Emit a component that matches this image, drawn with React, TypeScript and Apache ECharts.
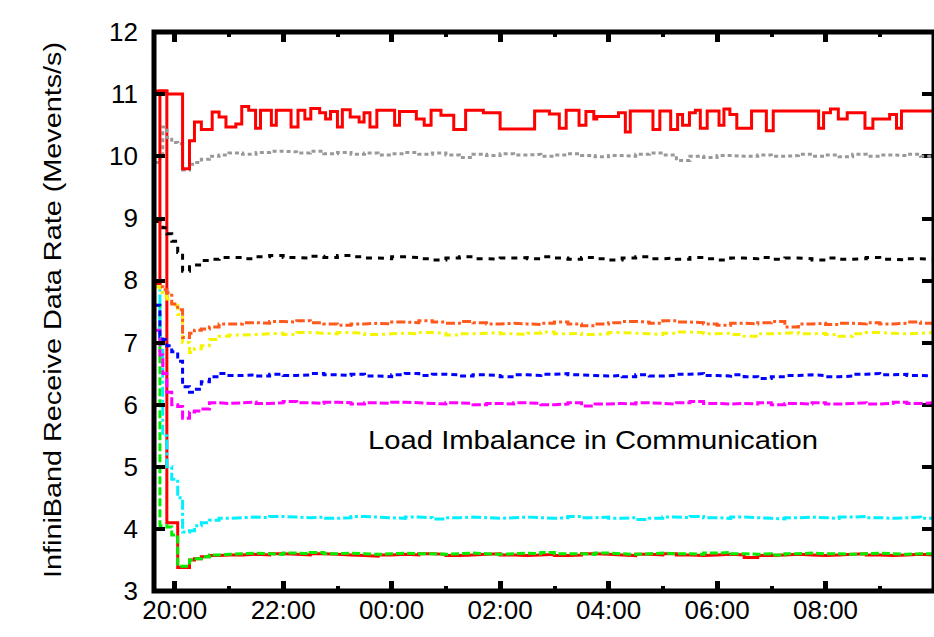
import React, { useEffect, useRef } from "react";
import * as echarts from "echarts";

// ---- time grid (hours; 24 = 00:00 next day) ----
const EARLY_TIMES = [19.636, 19.727, 19.78, 19.855, 19.945, 20.055, 20.145, 20.273, 20.364, 20.491, 20.64, 20.818];
const FLAT_TIMES = [
  21.0, 21.25, 21.5, 21.75, 22.0, 22.25, 22.5, 22.75, 23.0, 23.25,
  23.5, 23.75, 24.0, 24.25, 24.5, 24.75, 25.0, 25.25, 25.5, 25.75,
  26.0, 26.25, 26.5, 26.75, 27.0, 27.25, 27.5, 27.75, 28.0, 28.25,
  28.5, 28.75, 29.0, 29.25, 29.5, 29.75, 30.0, 30.25, 30.5, 30.75,
  31.0, 31.25, 31.5, 31.75, 32.0, 32.25, 32.5, 32.75, 33.0, 33.25,
  33.5, 33.75, 34.0,
];
const TIMES = [...EARLY_TIMES, ...FLAT_TIMES];

// ---- series values ----
const GRAY = [
  9.9, 10.0, 10.47, 10.3, 10.22, 10.2, 9.78, 9.87, 9.9, 9.95, 10.0, 10.02,
  10.05, 10.03, 10.06, 10.08, 10.07, 10.05, 10.08, 10.04, 10.06, 10.03,
  10.05, 10.02, 10.04, 10.06, 10.03, 10.05, 10.02, 9.98, 10.03, 10.01,
  10.04, 10.02, 10.03, 10.0, 10.02, 10.04, 10.01, 9.99, 10.01, 10.0,
  10.03, 10.05, 10.02, 9.93, 10.0, 9.98, 10.01, 10.0, 10.0, 10.02,
  10.0, 10.01, 10.03, 10.0, 10.02, 9.99, 10.03, 10.0, 10.02, 10.01,
  10.03, 10.0, 10.01,
];
const BLACK = [
  8.95, 8.9, 8.85, 8.75, 8.63, 8.45, 8.15, 8.22, 8.25, 8.32, 8.34, 8.37,
  8.37, 8.35, 8.38, 8.4, 8.37, 8.36, 8.39, 8.37, 8.4, 8.38,
  8.36, 8.35, 8.38, 8.37, 8.35, 8.33, 8.36, 8.38, 8.35, 8.34,
  8.36, 8.37, 8.35, 8.38, 8.36, 8.34, 8.37, 8.35, 8.33, 8.36,
  8.38, 8.35, 8.36, 8.34, 8.37, 8.35, 8.33, 8.36, 8.35, 8.37,
  8.34, 8.36, 8.35, 8.33, 8.36, 8.34, 8.35, 8.37, 8.34, 8.33,
  8.35, 8.34, 8.33,
];
const ORANGE = [
  8.0, 7.9, 7.85, 7.8, 7.62, 7.53, 7.08, 7.15, 7.2, 7.22, 7.25, 7.3,
  7.3, 7.32, 7.31, 7.34, 7.33, 7.35, 7.32, 7.3, 7.28, 7.3,
  7.31, 7.3, 7.33, 7.32, 7.35, 7.33, 7.31, 7.34, 7.32, 7.3,
  7.31, 7.3, 7.29, 7.31, 7.33, 7.3, 7.27, 7.3, 7.32, 7.34,
  7.33, 7.31, 7.35, 7.33, 7.32, 7.3, 7.28, 7.31, 7.3, 7.32,
  7.34, 7.25, 7.3, 7.31, 7.29, 7.31, 7.3, 7.32, 7.3, 7.31,
  7.33, 7.31, 7.3,
];
const YELLOW = [
  7.9, 7.8, 7.75, 7.7, 7.6, 7.45, 7.0, 6.84, 6.9, 6.95, 7.05, 7.1,
  7.12, 7.13, 7.14, 7.15, 7.13, 7.16, 7.15, 7.14, 7.16, 7.15,
  7.13, 7.14, 7.15, 7.14, 7.16, 7.15, 7.12, 7.14, 7.15, 7.16,
  7.14, 7.13, 7.15, 7.17, 7.14, 7.15, 7.13, 7.14, 7.16, 7.15,
  7.14, 7.13, 7.15, 7.17, 7.16, 7.14, 7.15, 7.13, 7.1, 7.14,
  7.15, 7.16, 7.14, 7.15, 7.13, 7.1, 7.14, 7.16, 7.15, 7.14,
  7.15, 7.16, 7.15,
];
const BLUE = [
  7.6, 7.1, 7.05, 6.95, 6.85, 6.7, 6.29, 6.2, 6.25, 6.37, 6.45, 6.5,
  6.47, 6.48, 6.46, 6.49, 6.47, 6.48, 6.5, 6.48, 6.47, 6.49,
  6.46, 6.45, 6.48, 6.5, 6.47, 6.49, 6.48, 6.46, 6.48, 6.47,
  6.45, 6.48, 6.47, 6.49, 6.5, 6.48, 6.47, 6.46, 6.47, 6.45,
  6.48, 6.46, 6.47, 6.49, 6.5, 6.47, 6.46, 6.48, 6.45, 6.42,
  6.45, 6.47, 6.48, 6.47, 6.45, 6.46, 6.49, 6.5, 6.48, 6.49,
  6.47, 6.46, 6.45,
];
const MAGENTA = [
  7.2, 6.8, 6.5, 6.2, 6.0, 5.97, 5.78, 5.88, 5.9, 5.93, 6.03, 6.02,
  6.03, 6.04, 6.02, 6.03, 6.05, 6.03, 6.02, 6.04, 6.03, 6.01,
  6.03, 6.02, 6.04, 6.03, 6.02, 6.01, 6.03, 6.02, 6.0, 6.02,
  6.01, 6.03, 6.02, 6.0, 6.01, 6.03, 5.98, 6.01, 6.02, 6.01,
  6.03, 6.02, 6.01, 6.03, 6.05, 6.02, 6.01, 6.02, 6.01, 6.03,
  6.0, 6.02, 6.01, 6.03, 6.01, 6.02, 6.03, 6.01, 6.02, 6.04,
  6.02, 6.03, 6.02,
];
const CYAN = [
  8.0, 7.0, 5.5, 5.0, 4.8, 4.5, 3.95, 3.97, 4.05, 4.1, 4.14, 4.17,
  4.18, 4.19, 4.18, 4.2, 4.19, 4.18, 4.19, 4.17, 4.18, 4.2,
  4.19, 4.18, 4.17, 4.19, 4.18, 4.16, 4.18, 4.19, 4.18, 4.17,
  4.18, 4.19, 4.18, 4.17, 4.18, 4.2, 4.18, 4.19, 4.17, 4.18,
  4.15, 4.17, 4.19, 4.18, 4.2, 4.18, 4.17, 4.19, 4.18, 4.17,
  4.16, 4.18, 4.19, 4.18, 4.17, 4.19, 4.2, 4.18, 4.17, 4.18,
  4.19, 4.17, 4.16,
];
const GREEN = [
  7.6, 4.05, 4.05, 4.03, 3.9, 3.4, 3.4, 3.5, 3.52, 3.55, 3.58, 3.59,
  3.6, 3.61, 3.6, 3.59, 3.61, 3.6, 3.62, 3.6, 3.61, 3.6,
  3.59, 3.6, 3.61, 3.6, 3.6, 3.59, 3.6, 3.61, 3.6, 3.59,
  3.6, 3.61, 3.6, 3.62, 3.6, 3.6, 3.59, 3.61, 3.6, 3.59,
  3.6, 3.61, 3.6, 3.6, 3.59, 3.61, 3.62, 3.6, 3.59, 3.6,
  3.58, 3.6, 3.61, 3.6, 3.6, 3.59, 3.6, 3.61, 3.6, 3.59,
  3.6, 3.6, 3.59,
];
const RED_LOW = [
  11.05, 11.05, 11.05, 4.1, 4.1, 3.38, 3.38, 3.5, 3.52, 3.55, 3.57, 3.58,
  3.58, 3.59, 3.58, 3.6, 3.59, 3.58, 3.6, 3.59, 3.58, 3.57,
  3.56, 3.58, 3.59, 3.58, 3.6, 3.59, 3.57, 3.58, 3.59, 3.6,
  3.58, 3.57, 3.58, 3.59, 3.57, 3.58, 3.6, 3.59, 3.58, 3.57,
  3.59, 3.58, 3.6, 3.58, 3.57, 3.58, 3.59, 3.58, 3.54, 3.57,
  3.58, 3.59, 3.58, 3.57, 3.58, 3.59, 3.6, 3.58, 3.57, 3.58,
  3.59, 3.58, 3.57,
];
// top red series: [time (h), value] step points
const RED_TOP: [number, number][] = [
  [19.636, 7.95], [19.727, 11.05], [19.855, 11.0], [20.145, 9.8], [20.273, 10.25], [20.364, 10.55],
  [20.491, 10.43], [20.691, 10.71], [20.818, 10.63], [20.945, 10.47], [21.127, 10.52], [21.236, 10.8],
  [21.364, 10.74], [21.491, 10.45], [21.582, 10.74], [21.782, 10.5], [21.873, 10.74], [22.145, 10.47],
  [22.273, 10.74], [22.4, 10.6], [22.509, 10.77], [22.673, 10.7], [22.782, 10.6], [22.873, 10.72],
  [23.0, 10.47], [23.091, 10.75], [23.236, 10.63], [23.4, 10.55], [23.491, 10.7], [23.6, 10.47],
  [23.727, 10.74], [24.055, 10.5], [24.145, 10.72], [24.455, 10.6], [24.6, 10.5], [24.727, 10.74],
  [24.909, 10.66], [25.145, 10.43], [25.364, 10.74], [25.691, 10.7], [26.0, 10.44], [26.636, 10.73],
  [26.909, 10.68], [27.091, 10.45], [27.218, 10.74], [27.455, 10.5], [27.582, 10.72], [27.727, 10.6],
  [27.782, 10.64], [28.182, 10.7], [28.309, 10.39], [28.4, 10.73], [28.818, 10.43], [28.945, 10.73],
  [29.145, 10.43], [29.273, 10.67], [29.364, 10.5], [29.491, 10.7], [29.6, 10.74], [29.691, 10.45],
  [29.818, 10.73], [30.036, 10.5], [30.127, 10.76], [30.236, 10.67], [30.364, 10.45], [30.636, 10.73],
  [30.909, 10.41], [31.036, 10.73], [31.873, 10.45], [31.964, 10.7], [32.091, 10.76], [32.236, 10.6],
  [32.4, 10.7], [32.727, 10.45], [32.873, 10.6], [33.182, 10.67], [33.309, 10.45], [33.4, 10.73],
  [34.0, 10.73],
];

// ---- axes ticks/labels ----
const X_MAJOR = [20, 22, 24, 26, 28, 30, 32];
const X_MAJOR_LABELS = ["20:00", "22:00", "00:00", "02:00", "04:00", "06:00", "08:00"];
const X_MINOR = [21, 23, 25, 27, 29, 31, 33];
const X_MIN = 19.618;
const X_MAX = 34.0;
const Y_MIN = 3;
const Y_MAX = 12;

const Y_TITLE = "InfiniBand Receive Data Rate (Mevents/s)";
const NOTE = "Load Imbalance in Communication";

const FONT = '"Liberation Sans", Arial, sans-serif';

function pairs(vals: number[]) {
  return TIMES.map((t, i) => [t, vals[i]]);
}

export default function App() {
  const ref = useRef<HTMLDivElement>(null);
  useEffect(() => {
    document.body.style.margin = "0";
    if (!ref.current) return;
    const chart = echarts.init(ref.current, null, { renderer: "svg" });

    const mk = (name: string, data: any[], color: string, type: any) => ({
      name,
      type: "line",
      data,
      step: "end",
      showSymbol: false,
      symbol: "none",
      silent: true,
      xAxisIndex: 0,
      yAxisIndex: 0,
      lineStyle: { color, width: 3, type, cap: "butt", join: "miter" },
      emphasis: { disabled: true },
      z: 2,
    });

    const hiddenX = (position: string, ticks: number[], len: number, w: number) => ({
      type: "value",
      position,
      min: X_MIN,
      max: X_MAX,
      axisLine: { show: false },
      splitLine: { show: false },
      axisLabel: { show: false },
      axisTick: {
        show: true,
        inside: true,
        length: len,
        customValues: ticks,
        lineStyle: { color: "#000", width: w },
      },
    });

    chart.setOption({
      animation: false,
      backgroundColor: "#fff",
      grid: {
        left: 154,
        right: -11,
        top: 32,
        bottom: 46,
        show: true,
        borderColor: "#000",
        borderWidth: 5,
        backgroundColor: "transparent",
        z: 10,
      },
      xAxis: [
        {
          type: "value",
          position: "bottom",
          min: X_MIN,
          max: X_MAX,
          axisLine: { show: false },
          splitLine: { show: false },
          axisTick: {
            show: true,
            inside: true,
            length: 10,
            customValues: X_MAJOR,
            lineStyle: { color: "#000", width: 5 },
          },
          axisLabel: {
            show: true,
            customValues: X_MAJOR,
            margin: 6,
            color: "#000",
            fontFamily: FONT,
            fontSize: 26,
            formatter: (v: number) => {
              const i = X_MAJOR.indexOf(Math.round(v));
              return i >= 0 ? X_MAJOR_LABELS[i] : "";
            },
          },
          z: 10,
        },
        hiddenX("bottom", X_MINOR, 5, 4),
        hiddenX("top", X_MAJOR, 10, 5),
        hiddenX("top", X_MINOR, 5, 4),
      ],
      yAxis: [
        {
          type: "value",
          position: "left",
          min: Y_MIN,
          max: Y_MAX,
          interval: 1,
          axisLine: { show: false },
          splitLine: { show: false },
          axisTick: { show: true, inside: true, length: 11, lineStyle: { color: "#000", width: 4 } },
          axisLabel: { margin: 16, color: "#000", fontFamily: FONT, fontSize: 26 },
          z: 10,
        },
        {
          type: "value",
          position: "right",
          min: Y_MIN,
          max: Y_MAX,
          interval: 1,
          axisLine: { show: false },
          splitLine: { show: false },
          axisTick: { show: true, inside: true, length: 12, lineStyle: { color: "#000", width: 4 } },
          axisLabel: { show: false },
        },
      ],
      graphic: [
        {
          type: "text",
          x: 53,
          y: 310,
          rotation: Math.PI / 2,
          scaleX: 1.2,
          style: {
            text: Y_TITLE,
            font: `24px ${FONT}`,
            fill: "#000",
            textAlign: "center",
            textVerticalAlign: "middle",
            align: "center",
            verticalAlign: "middle",
          },
        },
        {
          type: "text",
          x: 368,
          y: 440,
          scaleX: 1.17,
          style: {
            text: NOTE,
            font: `25px ${FONT}`,
            fill: "#000",
            textAlign: "left",
            textVerticalAlign: "middle",
            align: "left",
            verticalAlign: "middle",
          },
        },
      ],
      series: [
        mk("red-low", pairs(RED_LOW), "#ff0000", "solid"),
        mk("green", pairs(GREEN), "#00ee00", [8, 3]),
        mk("cyan", pairs(CYAN), "#00f0ff", [10, 3, 3, 3]),
        mk("magenta", pairs(MAGENTA), "#ff00ff", [9, 3]),
        mk("blue", pairs(BLUE), "#0000ff", [6, 4]),
        mk("yellow", pairs(YELLOW), "#f5f500", [8, 4, 3, 4]),
        mk("orange", pairs(ORANGE), "#ff5a1e", [9, 3, 3, 3]),
        mk("black", pairs(BLACK), "#000000", [6, 6]),
        mk("gray", pairs(GRAY), "#999999", [4, 3]),
        mk("red-top", RED_TOP, "#ff0000", "solid"),
      ],
    });
    return () => chart.dispose();
  }, []);
  return <div ref={ref} style={{ width: 934, height: 637 }} />;
}
